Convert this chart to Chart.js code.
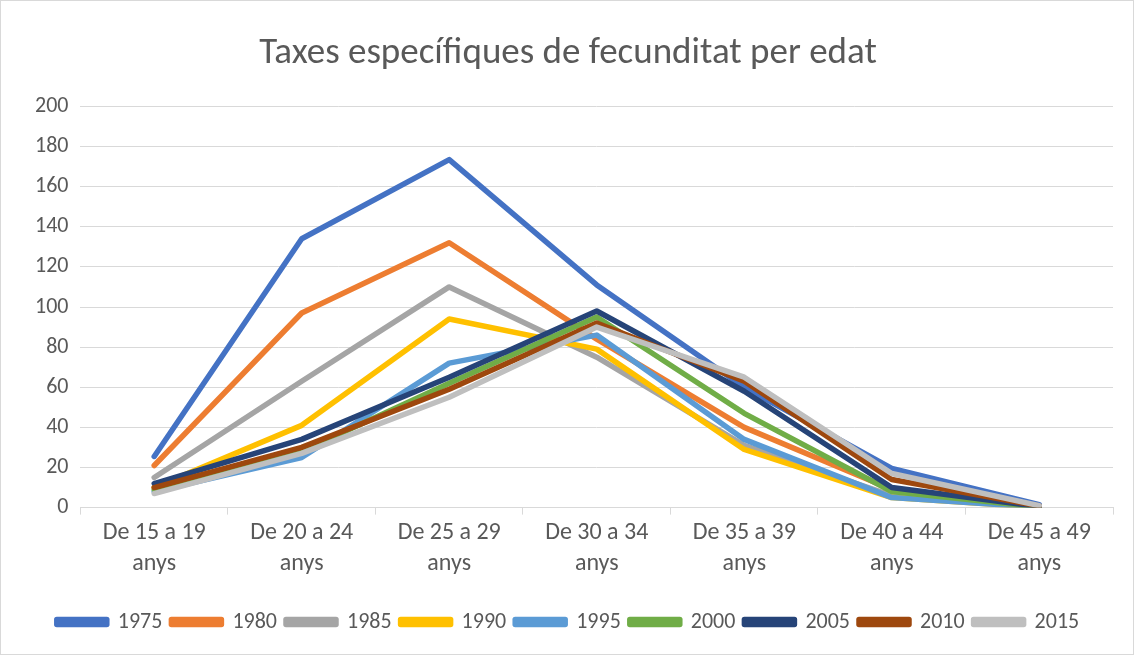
<!DOCTYPE html>
<html>
<head>
<meta charset="utf-8">
<script src="https://cdn.jsdelivr.net/npm/chart.js@4"></script>
<style>
  body { margin: 0; background: #fff; }
  #wrap { position: absolute; left: 0; top: 0; width: 1132px; height: 653px; border: 1px solid #d9d9d9; }
</style>
</head>
<body>
<div id="wrap"><canvas id="chart" width="1132" height="653"></canvas></div>
<script>
// categories (age groups)
const categories = [
  ["De 15 a 19", "anys"], ["De 20 a 24", "anys"], ["De 25 a 29", "anys"],
  ["De 30 a 34", "anys"], ["De 35 a 39", "anys"], ["De 40 a 44", "anys"], ["De 45 a 49", "anys"]
];
const years = ["1975", "1980", "1985", "1990", "1995", "2000", "2005", "2010", "2015"];
const colors = ["#4472c4", "#ed7d31", "#a5a5a5", "#ffc000", "#5b9bd5", "#70ad47", "#264478", "#9e480e", "#bfbfbf"];

// rates per year
const v1975 = [25.5, 134, 173.5, 111, 60, 19.5, 1.5];
const v1980 = [21, 97, 132, 84, 40, 9, 0.5];
const v1985 = [15, 63, 110, 75, 31, 6, 0.3];
const v1990 = [10, 41, 94, 79, 29, 5, 0.2];
const v1995 = [8, 25, 72, 86, 34, 5, 0.2];
const v2000 = [9, 28, 62, 95, 47, 8, 0.3];
const v2005 = [12, 34, 65, 98, 58, 10, 0.5];
const v2010 = [10, 30, 59, 92, 63, 14, 0.8];
const v2015 = [7, 27, 55, 90, 65, 17, 1.0];
const series = [v1975, v1980, v1985, v1990, v1995, v2000, v2005, v2010, v2015];

const FONT = "Carlito, Calibri, Lato, sans-serif";

const datasets = years.map((y, i) => ({
  label: y,
  data: series[i],
  borderColor: colors[i],
  backgroundColor: colors[i],
  borderWidth: 5.5,
  borderCapStyle: "round",
  borderJoinStyle: "round",
  pointRadius: 0,
  tension: 0,
  order: 9 - i   // later years drawn on top, like Excel
}));

new Chart(document.getElementById("chart"), {
  type: "line",
  data: { labels: categories, datasets: datasets },
  options: {
    responsive: false,
    animation: false,
    layout: { padding: { left: 22, right: 20, top: 8, bottom: 11 } },
    plugins: {
      title: {
        display: true,
        text: "Taxes específiques de fecunditat per edat",
        color: "#595959",
        font: { family: FONT, size: 37, weight: "normal" },
        padding: { top: 23, bottom: 30 }
      },
      legend: {
        position: "bottom",
        reverse: true,
        labels: {
          boxWidth: 50,
          boxHeight: 5,
          color: "#595959",
          font: { family: FONT, size: 22 },
          padding: 9
        }
      },
      tooltip: { enabled: false }
    },
    scales: {
      x: {
        offset: true,
        grid: { offset: true, drawOnChartArea: false, color: "#d9d9d9", tickLength: 7 },
        border: { color: "#d9d9d9" },
        ticks: {
          color: "#595959",
          font: { family: FONT, size: 24, lineHeight: 1.3 },
          maxRotation: 0,
          padding: 3
        },
        // leave a gap between the axis labels and the legend
        afterFit: (scale) => { scale.height += 19; }
      },
      y: {
        min: 0,
        max: 200,
        ticks: {
          stepSize: 20,
          color: "#595959",
          font: { family: FONT, size: 22 },
          padding: 12
        },
        grid: { color: "#d9d9d9", drawTicks: false },
        border: { display: false }
      }
    }
  }
});
</script>
</body>
</html>
